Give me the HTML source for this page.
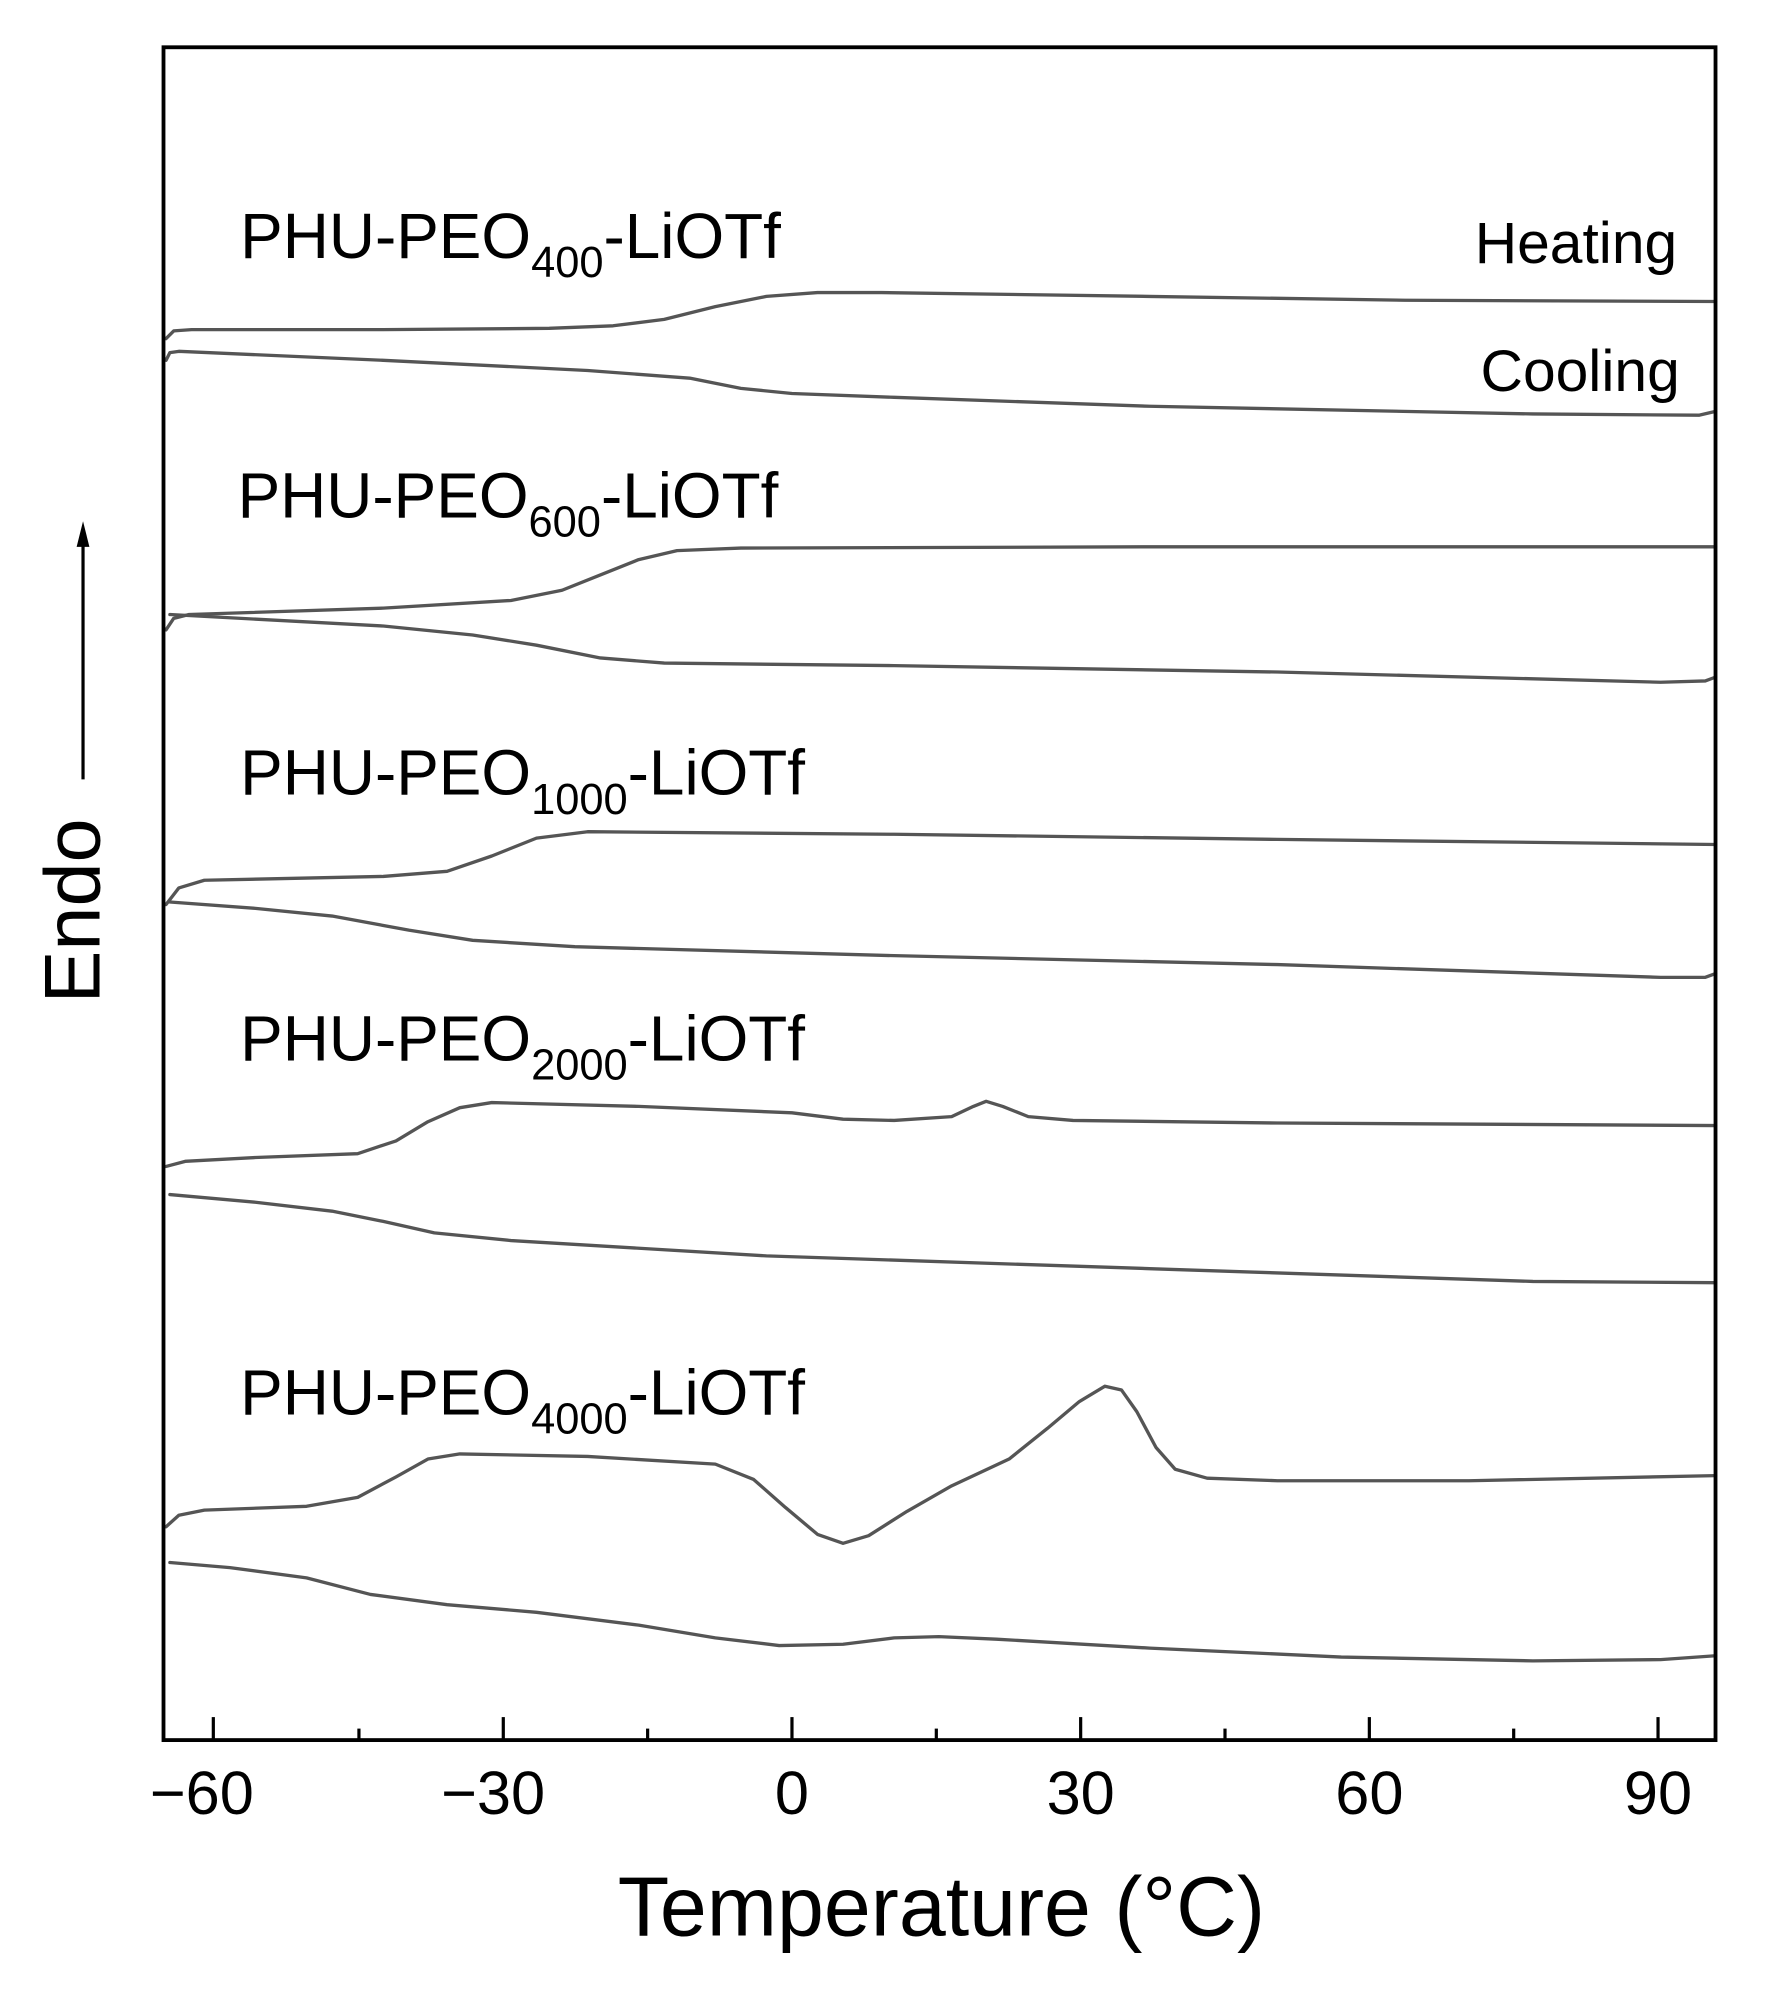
<!DOCTYPE html>
<html><head><meta charset="utf-8"><style>html,body{margin:0;padding:0;background:#fff}svg{display:block}</style></head>
<body>
<svg width="1773" height="2002" viewBox="0 0 1388 1567" preserveAspectRatio="none" xmlns="http://www.w3.org/2000/svg" font-family="'Liberation Sans', sans-serif">
<rect width="1388" height="1567" fill="#fff"/>
<g fill="none" stroke="#555" stroke-width="2.6" stroke-linejoin="round" stroke-linecap="round">
<polyline points="130,265 136,259 150,258 300,258 430,257 480,255 520,250 560,240 600,232 640,229 690,229 900,232 1100,235 1343,236"/>
<polyline points="130,282 133,276 140,275 300,282 460,290 540,296 580,304 620,308 700,311 900,318 1200,324 1330,325 1343,322"/>
<polyline points="130,493 136,484 148,481 300,476 400,470 440,462 470,450 500,438 530,431 580,429 900,428 1343,428"/>
<polyline points="133,481 300,490 370,497 420,505 470,515 520,519 700,521 1000,526 1300,534 1335,533 1343,530"/>
<polyline points="130,708 140,695 160,689 300,686 350,682 385,670 420,656 460,651 700,653 1000,657 1343,661"/>
<polyline points="133,706 200,711 260,717 320,728 370,736 450,741 700,748 1000,755 1300,765 1335,765 1343,762"/>
<polyline points="130,913 145,909 200,906 280,903 310,893 335,878 360,867 385,863 500,866 620,871 660,876 700,877 745,874 762,866 772,862 785,866 805,874 840,877 1000,879 1343,881"/>
<polyline points="133,935 200,941 260,948 300,956 340,965 400,971 600,983 900,993 1200,1003 1343,1004"/>
<polyline points="130,1195 140,1186 160,1182 240,1179 280,1172 310,1156 335,1142 360,1138 460,1140 560,1146 590,1158 615,1180 640,1201 660,1208 680,1202 710,1183 745,1163 790,1142 820,1118 845,1097 865,1085 878,1088 890,1105 905,1133 920,1150 945,1157 1000,1159 1150,1159 1343,1155"/>
<polyline points="133,1223 180,1227 240,1235 290,1248 350,1256 420,1262 500,1272 560,1282 610,1288 660,1287 700,1282 735,1281 780,1283 900,1290 1050,1297 1200,1300 1300,1299 1343,1296"/>
</g>
<rect x="128" y="37" width="1215" height="1325" fill="none" stroke="#000" stroke-width="3"/>
<g stroke="#000" stroke-width="2.5">
<line x1="167" y1="1362" x2="167" y2="1344"/><line x1="394" y1="1362" x2="394" y2="1344"/><line x1="620" y1="1362" x2="620" y2="1344"/><line x1="846" y1="1362" x2="846" y2="1344"/><line x1="1072" y1="1362" x2="1072" y2="1344"/><line x1="1298" y1="1362" x2="1298" y2="1344"/>
<line x1="281" y1="1362" x2="281" y2="1353"/><line x1="507" y1="1362" x2="507" y2="1353"/><line x1="733" y1="1362" x2="733" y2="1353"/><line x1="959" y1="1362" x2="959" y2="1353"/><line x1="1185" y1="1362" x2="1185" y2="1353"/>
<line x1="65" y1="610" x2="65" y2="420"/>
</g>
<polygon points="65,408 60,428 70,428" fill="#000"/>
<g font-size="48" text-anchor="middle" fill="#000">
<text x="158" y="1420">−60</text><text x="386" y="1420">−30</text><text x="620" y="1420">0</text><text x="846" y="1420">30</text><text x="1072" y="1420">60</text><text x="1298" y="1420">90</text>
</g>
<text x="737" y="1515" font-size="66" text-anchor="middle">Temperature (°C)</text>
<text transform="translate(78,713) rotate(-90)" font-size="62" text-anchor="middle">Endo</text>
<g font-size="50" fill="#000">
<text x="188" y="202">PHU-PEO<tspan font-size="34" dy="15">400</tspan><tspan dy="-15">-LiOTf</tspan></text>
<text x="186" y="405">PHU-PEO<tspan font-size="34" dy="15">600</tspan><tspan dy="-15">-LiOTf</tspan></text>
<text x="188" y="622">PHU-PEO<tspan font-size="34" dy="15">1000</tspan><tspan dy="-15">-LiOTf</tspan></text>
<text x="188" y="830">PHU-PEO<tspan font-size="34" dy="15">2000</tspan><tspan dy="-15">-LiOTf</tspan></text>
<text x="188" y="1107">PHU-PEO<tspan font-size="34" dy="15">4000</tspan><tspan dy="-15">-LiOTf</tspan></text>
<text x="1313" y="206" font-size="46" text-anchor="end">Heating</text>
<text x="1315" y="306" font-size="46" text-anchor="end">Cooling</text>
</g>
</svg>
</body></html>
